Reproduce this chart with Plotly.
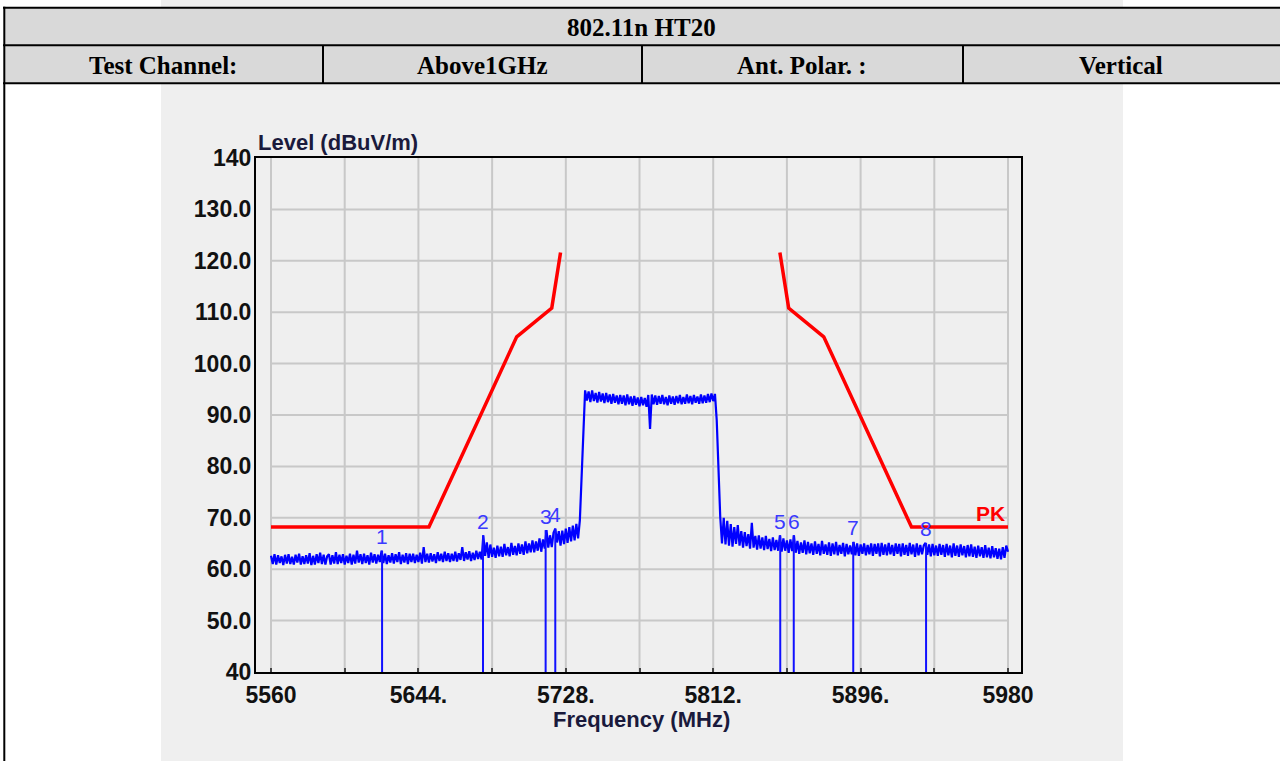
import plotly.graph_objects as go

# ---- spectrum sweep (1 MHz steps, 5560 .. 5980 MHz) ----
freq_start = 5560
freq_stop = 5980
levels = [
    62.6, 61.0, 62.9, 60.9, 62.7, 61.2, 62.5, 60.8, 62.8, 61.1,   # 5560
    62.9, 61.0, 62.4, 60.9, 62.8, 61.3, 63.0, 60.9, 62.5, 61.0,   # 5570
    62.7, 61.1, 63.1, 60.8, 62.6, 60.9, 62.9, 61.2, 63.2, 61.0,   # 5580
    62.8, 60.9, 62.5, 62.9, 60.9, 62.7, 61.1, 63.3, 61.0, 62.8,   # 5590
    61.2, 62.9, 60.9, 62.6, 61.2, 63.0, 60.9, 62.8, 61.1, 63.6,   # 5600
    61.3, 62.9, 61.0, 63.0, 61.2, 62.7, 60.9, 63.2, 61.3, 62.9,   # 5610
    61.1, 62.8, 61.4, 63.6, 61.2, 63.0, 61.0, 62.7, 61.3, 63.1,   # 5620
    61.1, 62.9, 61.4, 63.3, 61.0, 62.8, 61.3, 63.1, 61.0, 63.0,   # 5630
    61.4, 63.0, 61.2, 62.8, 61.4, 63.2, 61.1, 64.3, 61.4, 63.0,   # 5640
    61.3, 63.1, 61.5, 62.9, 61.2, 63.3, 61.6, 63.0, 61.4, 63.4,   # 5650
    61.6, 63.1, 61.4, 63.0, 61.6, 63.4, 61.5, 63.1, 61.8, 64.3,   # 5660
    61.6, 63.3, 61.9, 63.5, 61.6, 63.2, 61.8, 63.6, 62.0, 63.4,   # 5670
    61.9, 66.6, 62.6, 65.2, 62.2, 64.8, 62.4, 64.2, 62.2, 64.6,   # 5680
    62.5, 64.4, 62.4, 64.9, 62.7, 64.3, 62.5, 65.1, 62.8, 64.5,   # 5690
    62.7, 65.0, 63.0, 64.8, 62.8, 65.4, 63.1, 65.0, 63.3, 65.6,   # 5700
    63.3, 65.4, 63.6, 66.0, 63.4, 65.8, 64.0, 67.6, 64.2, 66.6,   # 5710
    64.3, 67.1, 67.9, 65.2, 67.4, 64.6, 67.5, 64.9, 67.9, 65.1,   # 5720
    68.2, 65.4, 68.5, 65.6, 68.8, 66.0, 69.5, 78.0, 88.5, 94.8,   # 5730
    92.8, 94.6, 92.5, 94.8, 92.7, 94.3, 92.4, 94.5, 92.6, 94.2,   # 5740
    92.3, 94.3, 92.5, 94.0, 92.2, 94.1, 92.4, 93.8, 92.1, 93.9,   # 5750
    92.2, 93.8, 91.9, 94.0, 92.1, 93.6, 91.8, 93.7, 92.0, 93.4,   # 5760
    91.7, 93.5, 91.9, 93.3, 91.6, 93.9, 87.3, 94.0, 92.1, 93.8,   # 5770
    92.0, 93.7, 92.2, 93.9, 92.1, 93.5, 91.9, 93.8, 92.2, 93.6,   # 5780
    92.0, 93.7, 92.3, 93.9, 92.1, 93.5, 92.2, 94.0, 92.3, 93.7,   # 5790
    92.1, 93.9, 92.4, 93.6, 92.2, 94.0, 92.3, 93.8, 92.4, 94.1,   # 5800
    92.5, 94.2, 92.7, 94.1, 89.0, 78.5, 70.2, 65.0, 70.0, 64.8,   # 5810
    69.4, 64.6, 68.8, 64.4, 68.2, 64.9, 68.6, 64.6, 67.4, 64.2,   # 5820
    67.2, 64.5, 66.8, 64.0, 69.0, 64.2, 66.5, 63.8, 66.6, 64.0,   # 5830
    66.2, 63.7, 66.5, 63.9, 65.9, 63.5, 66.2, 63.7, 65.7, 63.6,   # 5840
    66.6, 63.4, 66.0, 63.6, 65.6, 63.2, 65.8, 63.5, 66.6, 63.2,   # 5850
    65.5, 63.0, 65.2, 63.2, 65.6, 62.9, 65.3, 63.1, 65.0, 62.8,   # 5860
    65.4, 63.0, 64.9, 62.7, 65.5, 63.0, 64.8, 62.8, 65.2, 62.6,   # 5870
    65.0, 62.9, 65.3, 62.7, 64.7, 63.0, 65.1, 62.5, 64.9, 62.9,   # 5880
    64.6, 62.9, 65.3, 62.7, 65.0, 62.6, 64.8, 63.0, 65.0, 62.7,   # 5890
    64.7, 62.9, 65.0, 62.6, 64.9, 63.0, 65.0, 62.5, 65.1, 62.8,   # 5900
    64.8, 62.7, 65.1, 62.9, 64.7, 62.6, 65.0, 63.0, 64.9, 62.5,   # 5910
    65.0, 62.8, 64.7, 62.6, 65.1, 62.9, 64.8, 62.4, 65.0, 62.7,   # 5920
    64.7, 62.9, 64.6, 65.1, 62.8, 64.8, 62.5, 64.9, 62.7, 64.6,   # 5930
    62.6, 64.9, 62.8, 64.7, 62.4, 64.9, 62.7, 64.6, 62.3, 65.0,   # 5940
    62.6, 64.6, 62.4, 64.8, 62.7, 64.5, 62.3, 64.7, 62.5, 64.8,   # 5950
    62.4, 64.4, 62.2, 64.6, 62.5, 64.3, 62.2, 64.7, 62.3, 64.2,   # 5960
    62.1, 64.5, 62.3, 64.1, 62.0, 64.0, 61.9, 64.3, 62.2, 64.6,   # 5970
    63.4,                                                         # 5980
]
freqs = list(range(freq_start, freq_stop + 1))

# ---- peak limit mask (PK) ----
limit_low_freq = [5560, 5650, 5700, 5720, 5725]
limit_low_level = [68.2, 68.2, 105.2, 110.8, 121.6]
limit_high_freq = [5850, 5855, 5875, 5925, 5980]
limit_high_level = [121.6, 110.8, 105.2, 68.2, 68.2]

# ---- markers ----
marker_ids = ["1", "2", "3", "4", "5", "6", "7", "8"]
marker_freq = [5623.3, 5680.8, 5716.5, 5722.0, 5850.2, 5857.9, 5891.8, 5933.3]
marker_level = [63.6, 66.6, 67.6, 67.9, 66.6, 66.6, 65.3, 65.1]

# ---- axes ----
x_ticks = [5560, 5602, 5644, 5686, 5728, 5770, 5812, 5854, 5896, 5938, 5980]
x_labels = ["5560", "", "5644.", "", "5728.", "", "5812.", "", "5896.", "", "5980"]
y_ticks = [40, 50, 60, 70, 80, 90, 100, 110, 120, 130, 140]
y_labels = ["40", "50.0", "60.0", "70.0", "80.0", "90.0", "100.0",
            "110.0", "120.0", "130.0", "140"]

# ---- header table ----
header_title = "802.11n HT20"
header_cells = ["Test Channel:", "Above1GHz", "Ant. Polar. :", "Vertical"]

W, H = 1280, 761


def px(x):
    return x / W


def py(y):
    return 1 - y / H


fig = go.Figure()

fig.add_trace(go.Scatter(x=limit_low_freq, y=limit_low_level, mode="lines",
                         line=dict(color="#ff0000", width=3.5), hoverinfo="skip"))
fig.add_trace(go.Scatter(x=limit_high_freq, y=limit_high_level, mode="lines",
                         line=dict(color="#ff0000", width=3.5), hoverinfo="skip"))
fig.add_trace(go.Scatter(x=freqs, y=levels, mode="lines",
                         line=dict(color="#0000ff", width=2.2)))

mx, my = [], []
for f, lv in zip(marker_freq, marker_level):
    mx += [f, f, None]
    my += [40, lv, None]
fig.add_trace(go.Scatter(x=mx, y=my, mode="lines",
                         line=dict(color="#1010ff", width=2), hoverinfo="skip"))

shapes = []
# chart panel and table backgrounds
shapes.append(dict(type="rect", xref="paper", yref="paper", layer="below",
                   x0=px(161), x1=px(1123), y0=py(761), y1=py(0),
                   fillcolor="#efefef", line=dict(width=0)))
for y0, y1 in [(8, 45), (46, 83)]:
    shapes.append(dict(type="rect", xref="paper", yref="paper", layer="below",
                       x0=px(4), x1=px(1290), y0=py(y1), y1=py(y0),
                       fillcolor="#d9d9d9", line=dict(width=0)))
for y in [7.7, 45.3, 83.3]:
    shapes.append(dict(type="line", xref="paper", yref="paper",
                       x0=px(3), x1=px(1290), y0=py(y), y1=py(y),
                       line=dict(color="black", width=2)))
shapes.append(dict(type="line", xref="paper", yref="paper",
                   x0=px(4.3), x1=px(4.3), y0=py(6.7), y1=py(770),
                   line=dict(color="black", width=2)))
for x in [323, 642, 963]:
    shapes.append(dict(type="line", xref="paper", yref="paper",
                       x0=px(x), x1=px(x), y0=py(45.3), y1=py(83.3),
                       line=dict(color="black", width=2)))

# grid: vertical lines span the full level range, horizontal ones the sweep span
for gx in x_ticks:
    shapes.append(dict(type="line", xref="x", yref="y", layer="below",
                       x0=gx, x1=gx, y0=40, y1=140,
                       line=dict(color="#c8c8c8", width=2)))
for gy in y_ticks[1:-1]:
    shapes.append(dict(type="line", xref="x", yref="y", layer="below",
                       x0=x_ticks[0], x1=x_ticks[-1], y0=gy, y1=gy,
                       line=dict(color="#c8c8c8", width=2)))

annotations = []
annotations.append(dict(xref="paper", yref="paper", x=px(641), y=py(27),
                        text="<b>%s</b>" % header_title, showarrow=False,
                        xanchor="center", yanchor="middle",
                        font=dict(family="Liberation Serif", size=25, color="black")))
for cx, txt in zip([163, 482, 802, 1121], header_cells):
    annotations.append(dict(xref="paper", yref="paper", x=px(cx), y=py(66),
                            text="<b>%s</b>" % txt, showarrow=False,
                            xanchor="center", yanchor="middle",
                            font=dict(family="Liberation Serif", size=25, color="black")))

annotations.append(dict(xref="paper", yref="paper", x=px(256), y=py(142),
                        text="<b>Level (dBuV/m)</b>", showarrow=False,
                        xanchor="left", yanchor="middle",
                        font=dict(family="Liberation Sans", size=22, color="#1a1a3c")))
annotations.append(dict(xref="paper", yref="paper", x=px(641), y=py(719),
                        text="<b>Frequency (MHz)</b>", showarrow=False,
                        xanchor="center", yanchor="middle",
                        font=dict(family="Liberation Sans", size=22, color="#1a1a3c")))

for mid, f, lv in zip(marker_ids, marker_freq, marker_level):
    annotations.append(dict(xref="x", yref="y", x=f, y=lv, text=mid,
                            showarrow=False, xanchor="center", yanchor="middle",
                            yshift=14,
                            font=dict(family="Liberation Sans", size=21, color="#3a3aff")))

annotations.append(dict(xref="x", yref="y", x=5970, y=70.9, text="<b>PK</b>",
                        showarrow=False, xanchor="center", yanchor="middle",
                        font=dict(family="Liberation Sans", size=21, color="#ff0000")))

tick_font = dict(family="Liberation Sans", size=23, color="#111111")

fig.update_layout(
    width=W, height=H,
    autosize=False,
    margin=dict(l=0, r=0, t=0, b=0, pad=0, autoexpand=False),
    paper_bgcolor="white",
    plot_bgcolor="white",
    showlegend=False,
    shapes=shapes,
    annotations=annotations,
    xaxis=dict(
        domain=[px(256), px(1021)],
        range=[5551.45, 5987.4],
        tickmode="array", tickvals=x_ticks,
        ticktext=["<b>%s</b>" % t if t else "" for t in x_labels],
        tickfont=tick_font,
        ticks="inside", ticklen=4, tickwidth=2, tickcolor="#444444",
        showgrid=False, zeroline=False, automargin=False,
        showline=True, linecolor="black", linewidth=2, mirror=True,
        ticklabelstandoff=1,
    ),
    yaxis=dict(
        domain=[py(672), py(158)],
        range=[40, 140],
        tickmode="array", tickvals=y_ticks,
        ticktext=["<b>%s</b>" % t for t in y_labels],
        tickfont=tick_font,
        ticks="",
        showgrid=False, zeroline=False, automargin=False,
        showline=True, linecolor="black", linewidth=2, mirror=True,
        ticklabelstandoff=-2,
    ),
)

# pin the figure to the top-left corner of the page, with no body margin
page_script = (
    "document.documentElement.style.margin='0';"
    "document.body.style.margin='0';"
    "document.body.style.padding='0';"
    "var gd=document.getElementById('{plot_id}');"
    "gd.style.position='fixed';gd.style.left='0px';gd.style.top='0px';"
)
fig.write_html("out.html", config={"responsive": False}, post_script=page_script)
